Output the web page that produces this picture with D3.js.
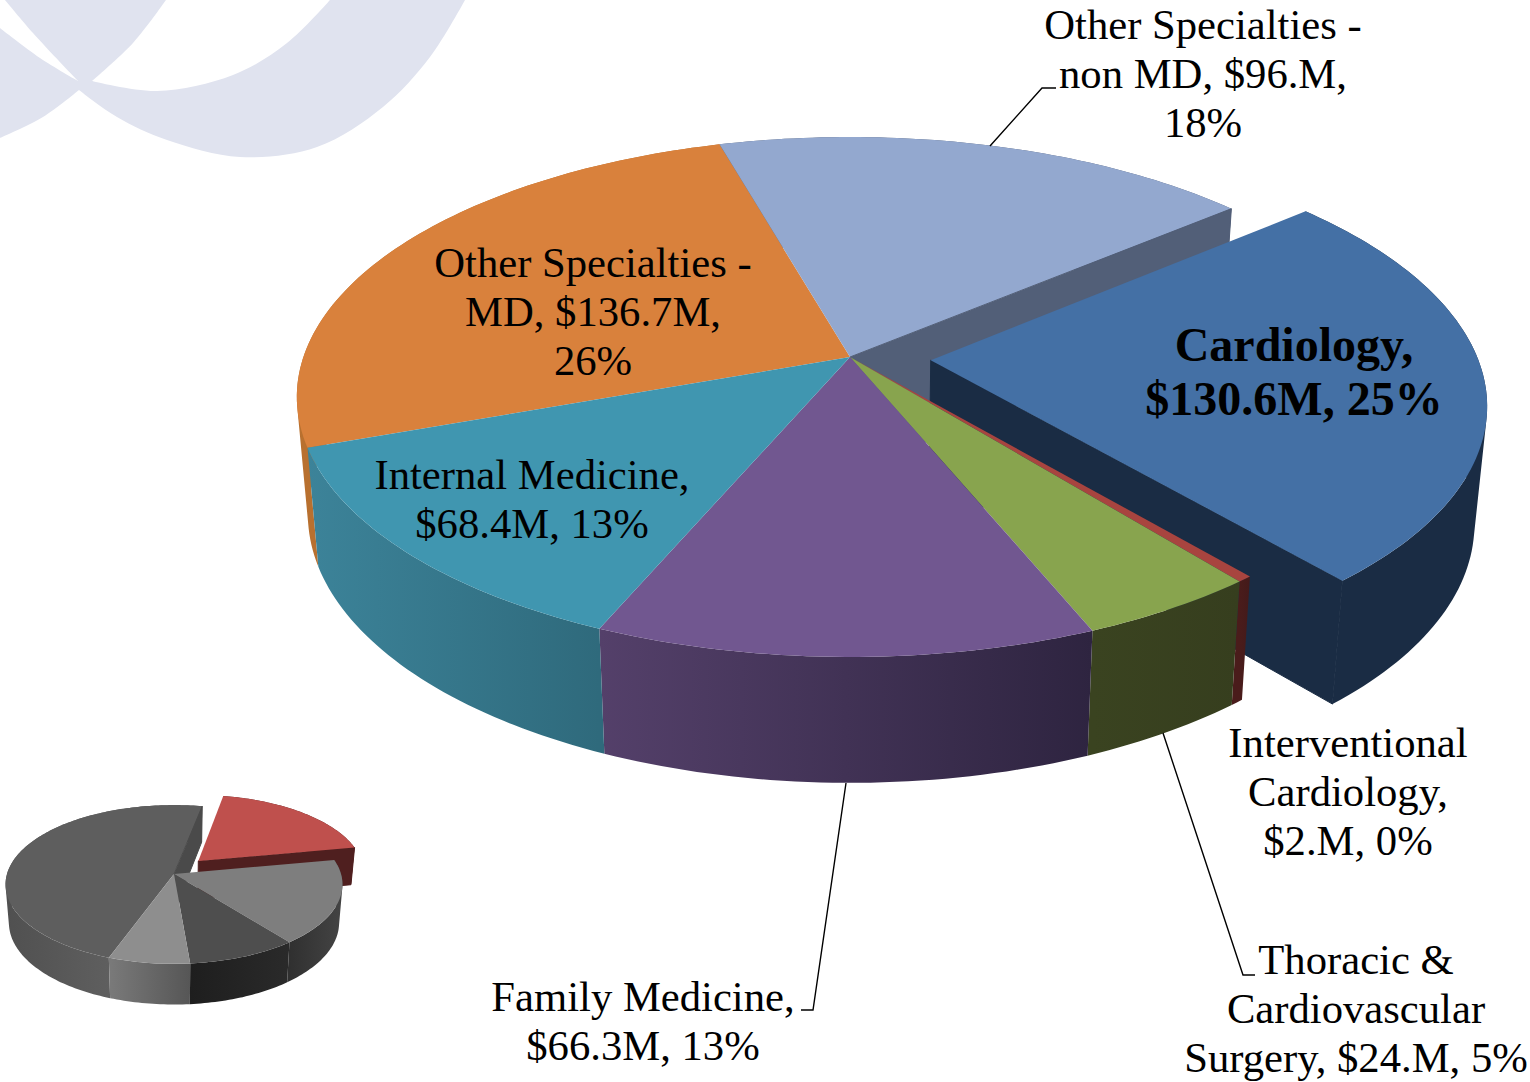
<!DOCTYPE html>
<html><head><meta charset="utf-8">
<script src="https://cdn.jsdelivr.net/npm/d3@7"></script>
<style>html,body{margin:0;padding:0;background:#fff}svg{display:block}text{font-family:"Liberation Serif","Times New Roman",serif;fill:#000;text-anchor:middle}</style>
</head><body><svg id="c" width="1530" height="1082"></svg>
<script>
// ---- data
const categories = ["Cardiology","Interventional Cardiology","Thoracic & Cardiovascular Surgery","Family Medicine","Internal Medicine","Other Specialties - MD","Other Specialties - non MD"];
const values = [130.6,2,24,66.3,68.4,136.7,96];
const labelLines = [
  ["Cardiology,","$130.6M, 25%"],
  ["Interventional","Cardiology,","$2.M, 0%"],
  ["Thoracic &","Cardiovascular","Surgery, $24.M, 5%"],
  ["Family Medicine,","$66.3M, 13%"],
  ["Internal Medicine,","$68.4M, 13%"],
  ["Other Specialties -","MD, $136.7M,","26%"],
  ["Other Specialties -","non MD, $96.M,","18%"]
];
const insetValues = [19,17.3,9.3,6.9,47.5];

// ---- styling
const topColors  = ["#4470a5","#a8443f","#88a44e","#715790","#4096b0","#d9813c","#93a8cf"];
const wallColors = [["#1a2c44","#1a2c44"],["#4a1c1b","#431a1a"],["#3a4320","#363e1e"],["#54406a","#2e2440"],["#3c8399","#2f6a7c"],["#b8702f","#b8702f"],["#525f78","#525f78"]];
const insetTop   = ["#bf504d","#7e7e7e","#4e4e4e","#8e8e8e","#5e5e5e"];
const insetWalls = [["#4f1f1f","#4f1f1f"],["#303030","#444444"],["#1e1e1e","#2a2a2a"],["#7a7a7a","#565656"],["#505050","#6c6c6c"]];
const labelPos = [
  {x:1294,y:[361,415],size:48,bold:true},
  {x:1348,y:[757,806,855]},
  {x:1356,y:[974,1023,1072]},
  {x:643,y:[1011,1060]},
  {x:532,y:[489,538]},
  {x:593,y:[277,326,375]},
  {x:1203,y:[39,88,137]}
];
const leaders = [
  [[990,146],[1042,88],[1056,88]],
  [[846,783],[813,1010],[801,1010]],
  [[1163,733],[1243,975],[1255,975]]
];
const swooshUpper = [[[5,0],[33,33],[78,81]],[[92,81],[133,43],[166,0]]];
const swooshLower = [
  [[0,28],[40,58],[78,81]],
  [[92,81],[157,91],[233,75],[287,43],[330,0]],
  [[465,0],[430,57],[383,107],[317,147],[240,157],[167,140],[117,117],[79,90]],
  [[79,90],[43,117],[0,138]]
];

const svg = d3.select("#c"), defs = svg.append("defs");
const smooth = d3.line().curve(d3.curveCatmullRom.alpha(.5));
const straight = d3.line();
function outline(sections){ return sections.map((s,i)=> (i? "L":"M") + smooth(s).slice(1)).join("")+"Z"; }
const bg = svg.append("g").attr("fill","#e0e3ef");
bg.append("path").attr("d",outline(swooshUpper));
bg.append("path").attr("d",outline(swooshLower));

function pie3d(cfg){
  const g = svg.append("g");
  const arcs = d3.pie().sort(null).value(d=>d).startAngle(cfg.start).endAngle(cfg.start+2*Math.PI)(cfg.values);
  const proj = (u,v)=>{const w=1-cfg.k*v; return [cfg.cx+cfg.R*u/w, cfg.cy+cfg.Ry*v/w];};
  const low  = p=>[cfg.cx+cfg.sx*(p[0]-cfg.cx), cfg.cy+cfg.D+cfg.sy*(p[1]-cfg.cy)];
  const geom = arcs.map((a,i)=>{
    const mid=cfg.explodeAngle!==undefined?cfg.explodeAngle:(a.startAngle+a.endAngle)/2, e=i===cfg.exploded?cfg.explode:0;
    const ox=e*Math.sin(mid), oy=-e*Math.cos(mid);
    const steps=Math.max(2,Math.ceil((a.endAngle-a.startAngle)/0.02));
    const rim=d3.range(steps+1).map(s=>{
      const t=a.startAngle+(a.endAngle-a.startAngle)*s/steps;
      return proj(ox+Math.sin(t),oy-Math.cos(t));
    });
    return {apex:proj(ox,oy),rim};
  });
  const wall=i=>{
    const id=cfg.id+"w"+i, r=geom[i].rim;
    const lg=defs.append("linearGradient").attr("id",id).attr("gradientUnits","userSpaceOnUse")
      .attr("x1",d3.min(r,p=>p[0])).attr("x2",d3.max(r,p=>p[0])).attr("y1",0).attr("y2",0);
    lg.append("stop").attr("offset",0).attr("stop-color",cfg.walls[i][0]);
    lg.append("stop").attr("offset",1).attr("stop-color",cfg.walls[i][1]);
    // wall is a strip of quads, all wound the same way, so the silhouette of the fold is filled
    const strips=d3.pairs(r).map(([a,b])=>{
      const q=[a,b,low(b),low(a)];
      return straight(d3.polygonArea(q)<0?q.reverse():q)+"Z";
    }).join("");
    g.append("path").attr("d",strips).attr("fill",`url(#${id})`);
  };
  const top=i=>g.append("path").attr("d",straight([geom[i].apex,...geom[i].rim])+"Z").attr("fill",cfg.tops[i]);
  const cut=(i,color)=>{
    const a=geom[i].apex, r=geom[i].rim[geom[i].rim.length-1];
    g.append("path").attr("d",straight([a,r,low(r),low(a)])+"Z").attr("fill",color).attr("stroke",color).attr("stroke-width",1);
  };
  cfg.back.forEach(wall);
  cfg.back.forEach(top);
  cut(cfg.back[cfg.back.length-1],cfg.backCut);
  wall(cfg.exploded);
  cut(cfg.exploded,cfg.explodedCut);
  top(cfg.exploded);
  cfg.front.forEach(wall);
  cfg.front.forEach(top);
}
const deg=Math.PI/180;
pie3d({id:"main",values:values,tops:topColors,walls:wallColors,start:50.05*deg,
  cx:850,cy:357,R:546.6,Ry:253.8,k:0.1538,sx:0.98,sy:1.033,D:116,
  exploded:0,explode:0.148,back:[5,6],front:[1,2,3,4],backCut:"#525f78",explodedCut:"#1a2c44"});
pie3d({id:"inset",values:insetValues,tops:insetTop,walls:insetWalls,start:11*deg,
  cx:174,cy:874,R:167,Ry:78,k:0.1316,sx:0.98,sy:1.03,D:38,
  exploded:0,explode:0.227,explodeAngle:41*deg,back:[4],front:[1,2,3],backCut:"#4a4a4a",explodedCut:"#4f1f1f"});

svg.append("g").selectAll("path").data(leaders).join("path")
  .attr("d",d=>straight(d)).attr("fill","none").attr("stroke","#000").attr("stroke-width",1.4);
const labels=svg.append("g").selectAll("text").data(labelLines).join("text")
  .attr("font-size",(d,i)=>labelPos[i].size||42.67)
  .attr("font-weight",(d,i)=>labelPos[i].bold?"bold":"normal");
labels.selectAll("tspan").data((d,i)=>d.map((t,j)=>({t,x:labelPos[i].x,y:labelPos[i].y[j]}))).join("tspan")
  .attr("x",d=>d.x).attr("y",d=>d.y).text(d=>d.t);
</script></body></html>
